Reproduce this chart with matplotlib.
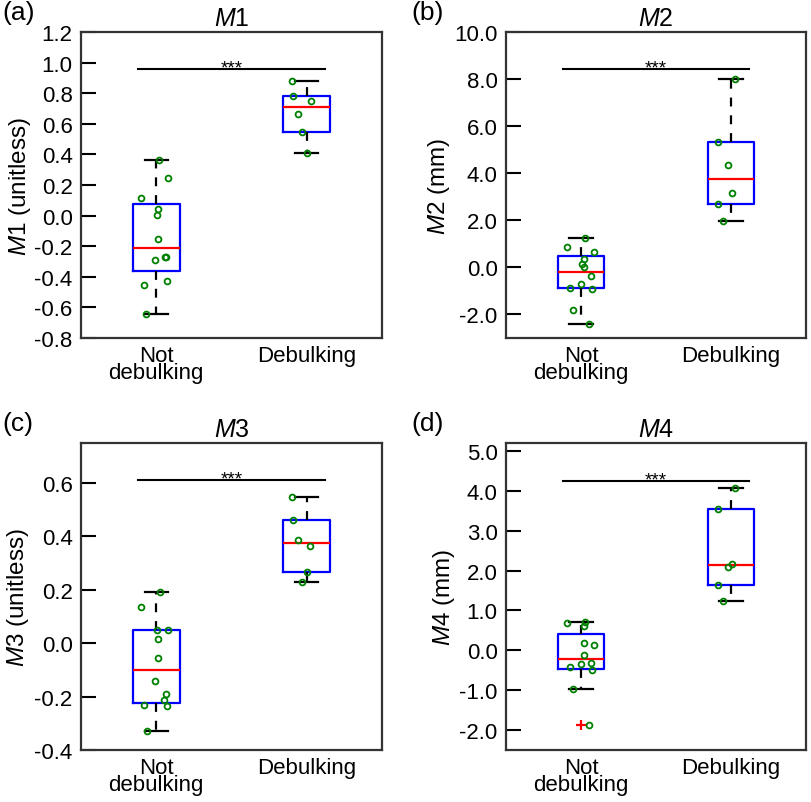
import numpy as np
import matplotlib
matplotlib.use("Agg")
import matplotlib.pyplot as plt

plt.rcParams['font.family'] = ['Liberation Sans', 'DejaVu Sans']
plt.rcParams['mathtext.fontset'] = 'custom'
plt.rcParams['mathtext.rm'] = 'Liberation Sans'
plt.rcParams['mathtext.it'] = 'Liberation Sans:italic'
plt.rcParams['axes.unicode_minus'] = False

groups = ["Not\ndebulking", "Debulking"]

# values (not debulking, debulking)
m1_not = [0.363, 0.249, 0.115, 0.041, 0.006, -0.155, -0.271, -0.271, -0.289, -0.429, -0.453, -0.643]
m1_deb = [0.883, 0.784, 0.752, 0.664, 0.548, 0.41]
m2_not = [1.257, 0.85, 0.637, 0.34, 0.14, 0.013, -0.38, -0.696, -0.865, -0.92, -1.826, -2.41]
m2_deb = [8.0, 5.33, 4.36, 3.14, 2.69, 1.97]
m3_not = [0.19, 0.134, 0.049, 0.05, 0.016, -0.056, -0.143, -0.19, -0.214, -0.232, -0.237, -0.33]
m3_deb = [0.547, 0.462, 0.386, 0.365, 0.268, 0.229]
m4_not = [0.71, 0.69, 0.61, 0.19, 0.14, -0.12, -0.33, -0.35, -0.43, -0.5, -0.98, -1.88]
m4_deb = [4.07, 3.55, 2.175, 2.09, 1.64, 1.23]

# horizontal jitter of the dots, as seen in the picture
jit_a_not = [0.02, 0.08, -0.10, 0.01, 0.005, 0.01, 0.06, 0.067, -0.01, 0.07, -0.08, -0.065]
jit_a_deb = [-0.096, -0.09, 0.025, -0.06, -0.03, 0.0]
jit_b_not = [0.03, -0.095, 0.09, 0.02, 0.01, 0.02, 0.07, 0.0, -0.07, 0.075, -0.055, 0.055]
jit_b_deb = [0.03, -0.085, -0.02, 0.005, -0.085, -0.055]
jit_c_not = [0.025, -0.10, 0.008, 0.08, 0.01, 0.01, -0.008, 0.065, 0.05, -0.08, 0.07, -0.063]
jit_c_deb = [-0.095, -0.09, -0.06, 0.02, 0.0, -0.03]
jit_d_not = [0.03, -0.095, 0.02, 0.02, 0.09, 0.02, 0.07, 0.0, -0.07, 0.075, -0.055, 0.055]
jit_d_deb = [0.03, -0.085, 0.005, -0.02, -0.085, -0.055]

sig_y = [0.96, 8.43, 0.61, 4.25]


def stats(vals):
    v = np.array(vals)
    q1, med, q3 = np.percentile(v, [25, 50, 75], method='hazen')
    iqr = q3 - q1
    lo = v[v >= q1 - 1.5 * iqr].min()
    hi = v[v <= q3 + 1.5 * iqr].max()
    fl = v[(v < lo) | (v > hi)]
    return dict(med=med, q1=q1, q3=q3, whislo=lo, whishi=hi, fliers=fl)


def panel(ax, d1, d2, j1, j2, sy, title, ylab, ylim, ticks, fmt, lpad):
    ax.bxp([stats(d1), stats(d2)], positions=[1, 2], widths=0.31, capwidths=0.155,
           boxprops=dict(color='blue', lw=1.6),
           medianprops=dict(color='red', lw=1.6),
           whiskerprops=dict(color='black', lw=1.6, linestyle=(0, (4, 4))),
           capprops=dict(color='black', lw=1.6),
           flierprops=dict(marker='+', markeredgecolor='red', markersize=7, mew=1.6))
    ax.plot(1 + np.array(j1), d1, 'o', mfc='none', mec='green', ms=4.2, mew=1.3, zorder=5)
    ax.plot(2 + np.array(j2), d2, 'o', mfc='none', mec='green', ms=4.2, mew=1.3, zorder=5)
    ax.plot([0.88, 2.12], [sy, sy], color='black', lw=1.5)
    ax.annotate('***', xy=(1.5, sy), xytext=(0, -2.5), textcoords='offset points',
                ha='center', va='baseline', fontsize=13.5)
    ax.set_xlim(0.5, 2.5)
    ax.set_ylim(ylim)
    ax.set_yticks(ticks)
    ax.set_yticklabels([fmt % (t + 0.0) for t in ticks])
    ax.set_xticks([1, 2])
    ax.set_xticklabels(groups, linespacing=0.78)
    ax.tick_params(axis='y', direction='in', length=10.5, width=1.5, labelsize=16, pad=6)
    ax.tick_params(axis='x', length=0, labelsize=16, pad=5)
    for s in ax.spines.values():
        s.set_linewidth(1.6)
        s.set_color('#333333')
    ax.set_title(title, fontsize=18, pad=5)
    ax.set_ylabel(ylab, fontsize=17.5, labelpad=lpad)


fig = plt.figure(figsize=(8.12, 8.03), dpi=100)
W, H = 812, 803
ax1 = fig.add_axes([81 / W, 1 - 339 / H, 301 / W, 306 / H])
ax2 = fig.add_axes([506 / W, 1 - 339 / H, 300 / W, 306 / H])
ax3 = fig.add_axes([81 / W, 1 - 751 / H, 301 / W, 307 / H])
ax4 = fig.add_axes([506 / W, 1 - 751 / H, 300 / W, 307 / H])

panel(ax1, m1_not, m1_deb, jit_a_not, jit_a_deb, sig_y[0], '$M$1', '$M$1 (unitless)',
      (-0.8, 1.2), np.round(np.arange(-0.8, 1.21, 0.2), 1), '%.1f', 1)
panel(ax2, m2_not, m2_deb, jit_b_not, jit_b_deb, sig_y[1], '$M$2', '$M$2 (mm)',
      (-3, 10), np.arange(-2, 10.1, 2.0), '%.1f', 2)
panel(ax3, m3_not, m3_deb, jit_c_not, jit_c_deb, sig_y[2], '$M$3', '$M$3 (unitless)',
      (-0.4, 0.75), np.round(np.arange(-0.4, 0.61, 0.2), 1), '%.1f', 2.5)
panel(ax4, m4_not, m4_deb, jit_d_not, jit_d_deb, sig_y[3], '$M$4', '$M$4 (mm)',
      (-2.5, 5.2), np.arange(-2, 5.1, 1.0), '%.1f', 2)

fig.text(2 / W, 1 - 1 / H, '(a)', fontsize=19, va='top', ha='left')
fig.text(411 / W, 1 - 1 / H, '(b)', fontsize=19, va='top', ha='left')
fig.text(2 / W, 1 - 412 / H, '(c)', fontsize=19, va='top', ha='left')
fig.text(411 / W, 1 - 412 / H, '(d)', fontsize=19, va='top', ha='left')

fig.savefig("out.png", dpi=100)
